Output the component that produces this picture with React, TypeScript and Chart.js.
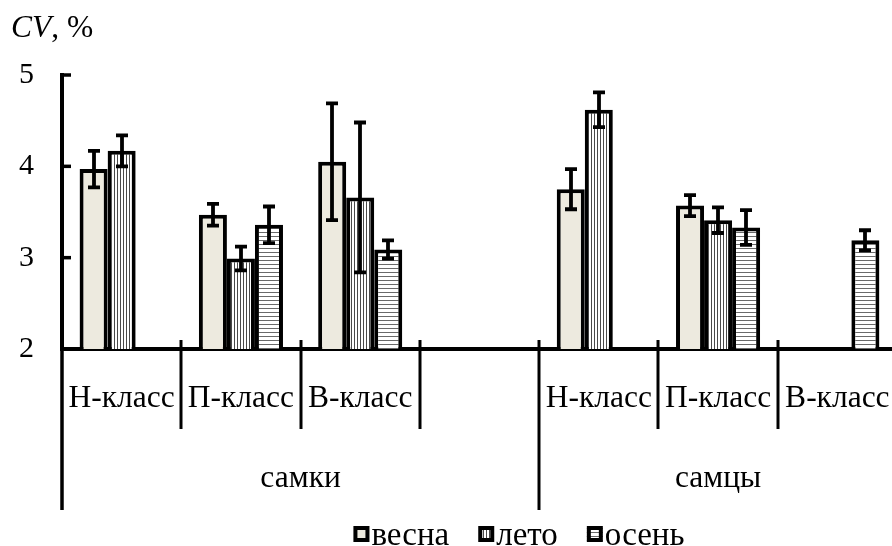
import React, { useEffect, useRef } from 'react';
import { Chart, registerables } from 'chart.js';

Chart.register(...registerables);

const categories = ['Н-класс', 'П-класс', 'В-класс', '', 'Н-класс', 'П-класс', 'В-класс'];
const groupLabels = ['самки', 'самцы'];
const groupStarts = [0, 4];
const groupEnds = [3, 6];
const seriesNames = ['весна', 'лето', 'осень'];

const vesna = [3.97, 3.47, 4.05, null, 3.75, 3.57, null];
const leto = [4.17, 2.99, 3.66, null, 4.62, 3.41, null];
const osen = [null, 3.36, 3.09, null, null, 3.33, 3.19];

const vesnaErr = [0.2, 0.12, 0.64, null, 0.22, 0.115, null];
const letoErr = [0.17, 0.13, 0.82, null, 0.19, 0.14, null];
const osenErr = [null, 0.2, 0.1, null, null, 0.19, 0.11];

const yMin = 2;
const yMax = 5;
const yStep = 1;

const FONT = '"Liberation Serif", "Times New Roman", serif';

function makePattern(kind: 'solid' | 'vert' | 'horiz'): CanvasPattern | string {
  if (kind === 'solid') return '#EDEADF';
  const c = document.createElement('canvas');
  if (kind === 'vert') {
    c.width = 3;
    c.height = 4;
    const g = c.getContext('2d')!;
    g.fillStyle = '#ffffff';
    g.fillRect(0, 0, 3, 4);
    g.fillStyle = '#4a4a4a';
    g.fillRect(0, 0, 1, 4);
  } else {
    c.width = 4;
    c.height = 4;
    const g = c.getContext('2d')!;
    g.fillStyle = '#ffffff';
    g.fillRect(0, 0, 4, 4);
    g.fillStyle = '#6a6a6a';
    g.fillRect(0, 0, 4, 1);
  }
  const ctx = document.createElement('canvas').getContext('2d')!;
  return ctx.createPattern(c, 'repeat')!;
}

const customPlugin = {
  id: 'customDecor',
  afterDatasetsDraw(chart: any) {
    const ctx = chart.ctx as CanvasRenderingContext2D;
    const ys = chart.scales.y;
    chart.data.datasets.forEach((ds: any, di: number) => {
      const meta = chart.getDatasetMeta(di);
      meta.data.forEach((bar: any, i: number) => {
        const v = ds.data[i];
        const e = ds.errors[i];
        if (v == null || e == null) return;
        const x = Math.round(bar.x);
        const top = ys.getPixelForValue(v + e);
        const bot = ys.getPixelForValue(v - e);
        ctx.save();
        ctx.strokeStyle = '#000';
        ctx.lineWidth = 3.8;
        ctx.beginPath();
        ctx.moveTo(x, top);
        ctx.lineTo(x, bot);
        ctx.moveTo(x - 6, top);
        ctx.lineTo(x + 6, top);
        ctx.moveTo(x - 6, bot);
        ctx.lineTo(x + 6, bot);
        ctx.stroke();
        ctx.restore();
      });
    });
  },
  afterDraw(chart: any) {
    const ctx = chart.ctx as CanvasRenderingContext2D;
    const xs = chart.scales.x;
    const ys = chart.scales.y;
    const area = chart.chartArea;
    const n = categories.length;
    const w = (xs.right - xs.left) / n;
    ctx.save();
    ctx.strokeStyle = '#000';
    ctx.fillStyle = '#000';

    // inner y tick marks
    ctx.lineWidth = 3.5;
    for (let v = yMin + yStep; v <= yMax; v += yStep) {
      const py = ys.getPixelForValue(v);
      ctx.beginPath();
      ctx.moveTo(area.left, py);
      ctx.lineTo(area.left + 9, py);
      ctx.stroke();
    }

    // y axis extension below
    ctx.lineWidth = 3.5;
    ctx.beginPath();
    ctx.moveTo(area.left, area.bottom);
    ctx.lineTo(area.left, area.bottom + 161);
    ctx.stroke();

    // separators
    ctx.lineWidth = 3;
    for (let k = 1; k <= n; k++) {
      const bx = Math.round(xs.left + k * w);
      const isLong = groupStarts.includes(k) || k === n;
      ctx.beginPath();
      ctx.moveTo(bx, area.bottom - 9);
      ctx.lineTo(bx, area.bottom + (isLong ? 161 : 80));
      ctx.stroke();
    }

    // category labels
    ctx.font = `31.5px ${FONT}`;
    ctx.textAlign = 'center';
    ctx.textBaseline = 'alphabetic';
    categories.forEach((c, i) => {
      if (!c) return;
      const cx = xs.getPixelForTick(i);
      ctx.fillText(c, cx, area.bottom + 58);
    });

    // group labels
    groupLabels.forEach((g, gi) => {
      const x0 = xs.left + groupStarts[gi] * w;
      const x1 = xs.left + (groupEnds[gi] + 1) * w;
      ctx.fillText(g, (x0 + x1) / 2, area.bottom + 138);
    });

    // title
    ctx.textAlign = 'left';
    ctx.font = `italic 31.5px ${FONT}`;
    ctx.fillText('CV', 11, 37);
    const cvw = ctx.measureText('CV').width;
    ctx.font = `31.5px ${FONT}`;
    ctx.fillText(', %', 11 + cvw, 37);

    // legend
    ctx.font = `33px ${FONT}`;
    const box = 16;
    const gapBoxText = 2;
    const gapItems = 29;
    const items = chart.data.datasets.map((ds: any) => ({
      label: ds.label,
      fill: ds.backgroundColor,
      tw: ctx.measureText(ds.label).width,
    }));
    const total = items.reduce((s: number, it: any) => s + box + gapBoxText + it.tw, 0) + gapItems * (items.length - 1);
    let lx = 519 - total / 2;
    const ly = 526;
    items.forEach((it: any) => {
      ctx.fillStyle = it.fill;
      ctx.fillRect(lx, ly, box, box);
      ctx.lineWidth = 4;
      ctx.strokeStyle = '#000';
      ctx.strokeRect(lx + 2, ly + 2, box - 4, box - 4);
      ctx.fillStyle = '#000';
      ctx.fillText(it.label, lx + box + gapBoxText, 544.5);
      lx += box + gapBoxText + it.tw + gapItems;
    });

    ctx.restore();
  },
};

export default function App() {
  const ref = useRef<HTMLCanvasElement | null>(null);

  useEffect(() => {
    if (!ref.current) return;
    const common = {
      borderColor: '#000',
      borderWidth: 4,
      borderSkipped: false,
      categoryPercentage: 0.705,
      barPercentage: 1.0,
    };
    const chart = new Chart(ref.current, {
      type: 'bar',
      data: {
        labels: categories,
        datasets: [
          { label: seriesNames[0], data: vesna, errors: vesnaErr, backgroundColor: makePattern('solid'), ...common } as any,
          { label: seriesNames[1], data: leto, errors: letoErr, backgroundColor: makePattern('vert'), ...common } as any,
          { label: seriesNames[2], data: osen, errors: osenErr, backgroundColor: makePattern('horiz'), ...common } as any,
        ],
      },
      options: {
        animation: false,
        responsive: true,
        maintainAspectRatio: false,
        layout: { padding: { top: 75, left: 0, right: 0, bottom: 0 } },
        plugins: {
          legend: { display: false },
          tooltip: { enabled: false },
          title: { display: false },
        },
        scales: {
          x: {
            type: 'category',
            offset: true,
            grid: { display: false },
            border: { display: true, color: '#000', width: 4 },
            ticks: { display: false },
            afterFit: (s: any) => {
              s.height = 197;
            },
          },
          y: {
            min: yMin,
            max: yMax,
            grid: { display: false, drawTicks: false, tickLength: 0 },
            border: { display: true, color: '#000', width: 4 },
            ticks: {
              stepSize: yStep,
              color: '#000',
              padding: 28,
              font: { family: FONT, size: 30 },
            },
            afterFit: (s: any) => {
              s.width = 62;
            },
          },
        },
      },
      plugins: [customPlugin],
    });
    return () => chart.destroy();
  }, []);

  return (
    <div style={{ position: 'fixed', left: 0, top: 0, width: 892, height: 546, overflow: 'hidden', background: '#fff' }}>
      <div style={{ position: 'relative', width: 897, height: 546 }}>
        <canvas ref={ref} style={{ display: 'block' }} />
      </div>
    </div>
  );
}
